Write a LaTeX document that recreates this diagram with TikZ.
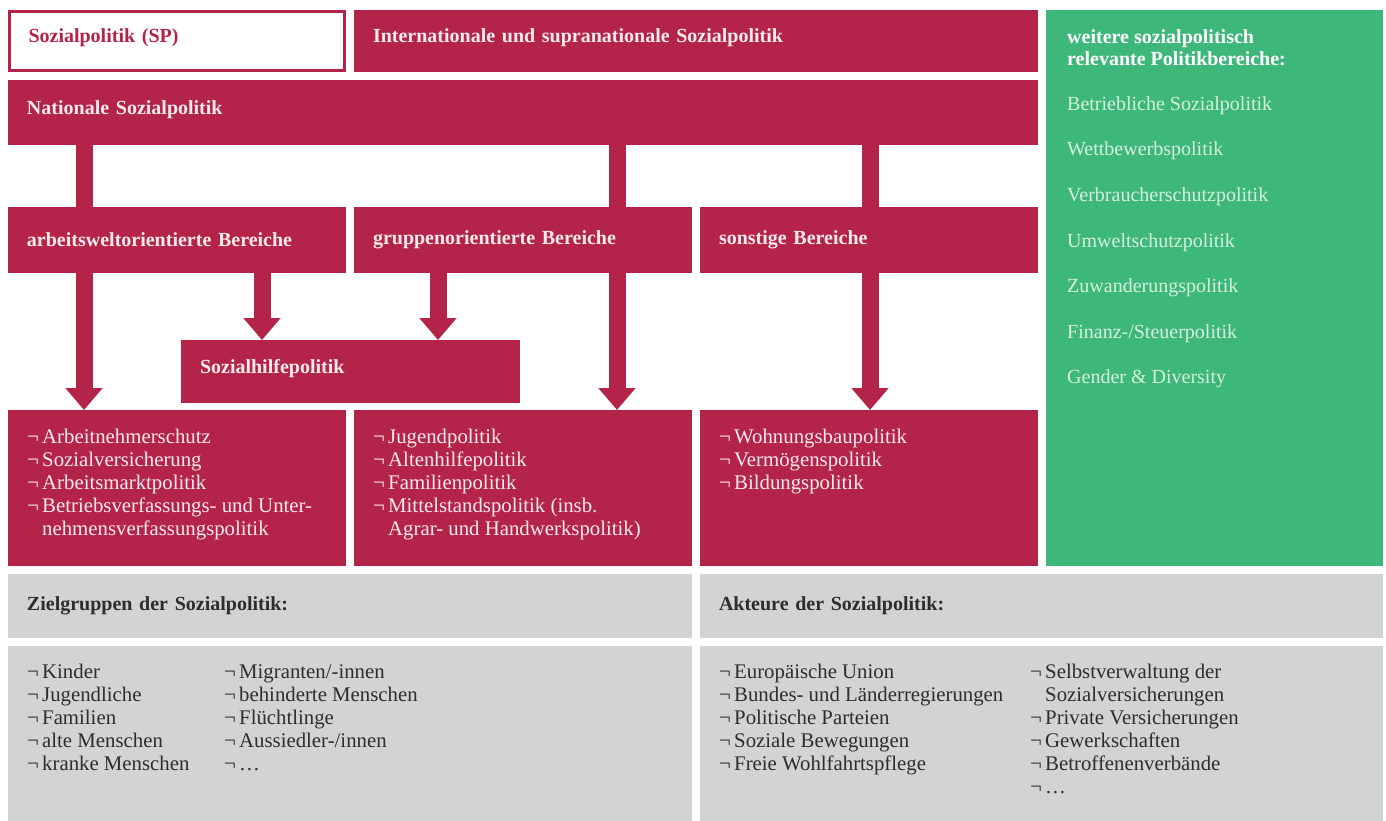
\documentclass[tikz,border=0pt]{standalone}
\usepackage{fontspec}
\setmainfont{Liberation Serif}
\usetikzlibrary{arrows.meta}
\definecolor{sred}{RGB}{180,36,72}
\definecolor{sgreen}{RGB}{62,184,122}
\definecolor{sgray}{RGB}{210,211,213}
\definecolor{rtext}{RGB}{250,234,238}
\definecolor{gtext}{RGB}{214,240,222}
\definecolor{dtext}{RGB}{45,45,45}
\newcommand{\nb}{\strut\makebox[15pt][l]{¬}}
\newcommand{\indt}{\strut\hspace*{15pt}}
\begin{document}
\begin{tikzpicture}[x=1pt,y=-1pt,
  fnt/.style={font=\fontsize{20}{23}\selectfont},
  lfnt/.style={font=\fontsize{20.8}{23}\selectfont},
  hbox/.style={anchor=north west, inner xsep=19pt, inner ysep=0pt, outer sep=0pt, align=left, fnt},
  redbox/.style={hbox, fill=sred, text=rtext, font=\fontsize{20}{23}\selectfont\bfseries},
  graybox/.style={hbox, fill=sgray, text=dtext, font=\fontsize{20}{23}\selectfont\bfseries},
  hi/.style={text height=12pt, text depth=8pt},
  listtxt/.style={anchor=north west, inner sep=0pt, align=left, lfnt},
  stem/.style={draw=sred, line width=17pt, line cap=butt},
  arr/.style={stem, -{Triangle[width=36pt,length=22pt]}},
]
\useasboundingbox (0,0) rectangle (1386,821);
% top row
\node[hbox, hi, fill=white, draw=sred, line width=3pt, minimum width=335pt, minimum height=59pt,
      text width=297pt, text=sred, inner xsep=17.5pt, font=\fontsize{20}{23}\selectfont\bfseries] (sp) at (9.5,11.5) {Sozialpolitik (SP)};
\node[redbox, hi, minimum width=684pt, minimum height=62pt, text width=646pt] (int) at (354,10) {Internationale und supranationale Sozialpolitik};
\node[redbox, hi, minimum width=1030pt, minimum height=65pt, text width=992pt] (nat) at (8,80) {Nationale Sozialpolitik};
% second row
\node[redbox, minimum width=338pt, minimum height=66pt, text width=300pt] (arb) at (8,207) {arbeitsweltorientierte Bereiche};
\node[redbox, minimum width=338pt, minimum height=66pt, text width=300pt] (grp) at (354,207) {gruppenorientierte Bereiche};
\node[redbox, minimum width=338pt, minimum height=66pt, text width=300pt] (son) at (700,207) {sonstige Bereiche};
% Sozialhilfe
\node[redbox, hi, minimum width=339pt, minimum height=63pt, text width=301pt] (shp) at (181,340) {Sozialhilfepolitik};
% third row
\node[redbox, minimum width=338pt, minimum height=156pt] (l1) at (8,410) {};
\node[redbox, minimum width=338pt, minimum height=156pt] (l2) at (354,410) {};
\node[redbox, minimum width=338pt, minimum height=156pt] (l3) at (700,410) {};
\node[listtxt, text=rtext] (t1) at (27,427) {\nb Arbeitnehmerschutz\\ \nb Sozialversicherung\\ \nb Arbeitsmarktpolitik\\ \nb Betriebsverfassungs- und Unter-\\ \indt nehmensverfassungspolitik};
\node[listtxt, text=rtext] (t2) at (373,427) {\nb Jugendpolitik\\ \nb Altenhilfepolitik\\ \nb Familienpolitik\\ \nb Mittelstandspolitik (insb.\\ \indt Agrar- und Handwerkspolitik)};
\node[listtxt, text=rtext] (t3) at (719,427) {\nb Wohnungsbaupolitik\\ \nb Vermögenspolitik\\ \nb Bildungspolitik};
% green panel
\node[hbox, fill=sgreen, minimum width=337pt, minimum height=556pt] (grn) at (1046,10) {};
\node[listtxt, text=white, font=\fontsize{20}{22}\selectfont\bfseries] (gh) at (1067,29.5) {weitere sozialpolitisch\\ relevante Politikbereiche:};
\foreach \t [count=\i] in {Betriebliche Sozialpolitik, Wettbewerbspolitik, Verbraucherschutzpolitik, Umweltschutzpolitik, Zuwanderungspolitik, Finanz-/Steuerpolitik, Gender \& Diversity}
  \node[anchor=base west, inner sep=0pt, fnt, text=gtext] (g\i) at (1067,{110.5+45.5*(\i-1)}) {\t};
% gray
\node[graybox, minimum width=684pt, minimum height=64pt, text width=646pt] (zh) at (8,574) {Zielgruppen der Sozialpolitik:};
\node[graybox, minimum width=683pt, minimum height=64pt, text width=645pt] (ah) at (700,574) {Akteure der Sozialpolitik:};
\node[graybox, minimum width=684pt, minimum height=175pt] (zl) at (8,646) {};
\node[graybox, minimum width=683pt, minimum height=175pt] (al) at (700,646) {};
\node[listtxt, text=dtext] (z1) at (27,662) {\nb Kinder\\ \nb Jugendliche\\ \nb Familien\\ \nb alte Menschen\\ \nb kranke Menschen};
\node[listtxt, text=dtext] (z2) at (224,662) {\nb Migranten/-innen\\ \nb behinderte Menschen\\ \nb Flüchtlinge\\ \nb Aussiedler-/innen\\ \nb \dots};
\node[listtxt, text=dtext] (a1) at (719,662) {\nb Europäische Union\\ \nb Bundes- und Länderregierungen\\ \nb Politische Parteien\\ \nb Soziale Bewegungen\\ \nb Freie Wohlfahrtspflege};
\node[listtxt, text=dtext] (a2) at (1030,662) {\nb Selbstverwaltung der\\ \indt Sozialversicherungen\\ \nb Private Versicherungen\\ \nb Gewerkschaften\\ \nb Betroffenenverbände\\ \nb \dots};
% connectors
\coordinate (c1) at (84,0);
\coordinate (c2) at (262,0);
\coordinate (c3) at (438,0);
\coordinate (c4) at (617,0);
\coordinate (c5) at (870,0);
\draw[stem] (nat.south -| c1) -- (arb.north -| c1);
\draw[stem] (nat.south -| c4) -- (grp.north -| c4);
\draw[stem] (nat.south -| c5) -- (son.north -| c5);
\draw[arr] (arb.south -| c1) -- (l1.north -| c1);
\draw[arr] (arb.south -| c2) -- (shp.north -| c2);
\draw[arr] (grp.south -| c3) -- (shp.north -| c3);
\draw[arr] (grp.south -| c4) -- (l2.north -| c4);
\draw[arr] (son.south -| c5) -- (l3.north -| c5);
\end{tikzpicture}
\end{document}
